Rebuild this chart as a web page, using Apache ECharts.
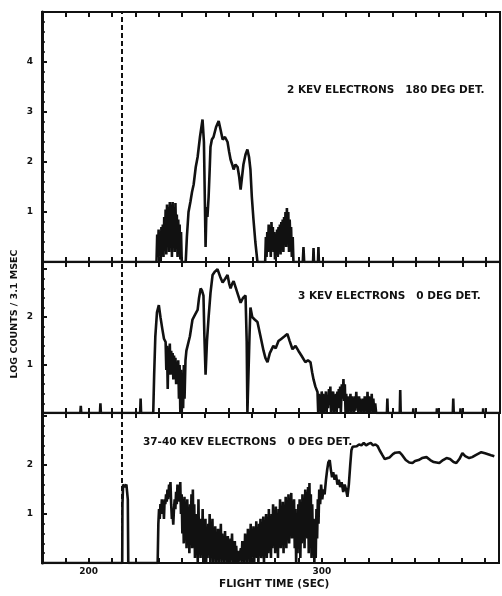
<!DOCTYPE html>
<html>
<head>
<meta charset="utf-8">
<script src="https://cdn.jsdelivr.net/npm/echarts@6/dist/echarts.min.js"></script>
<style>
  html, body { margin: 0; padding: 0; background: #fff; }
  #chart { width: 502px; height: 596px; }
</style>
</head>
<body>
<div id="chart"></div>
<script>
// flight time axis (sec)
var xMin = 180
var xMax = 376
var xLabels = [200, 300]
var dashedAt = 214.2

// y tick labels per panel
var topYLabels = [1, 2, 3, 4]
var midYLabels = [1, 2]
var botYLabels = [1, 2]

var titles = ['2 KEV ELECTRONS   180 DEG DET.', '3 KEV ELECTRONS   0 DEG DET.', '37-40 KEV ELECTRONS   0 DEG DET.']

// 2 keV, 180 deg detector  [time, log counts]
var topSeries = [
  [180, 0], [229, 0], [229.3, 0.55], [229.6, 0.1], [229.9, 0.65], [230.2, 0.2], [230.5, 0.6], [230.8, 0], [231.1, 0.7], [231.4, 0.25],
  [231.7, 0.75], [232, 0.1], [232.3, 0.9], [232.6, 0.3], [232.9, 1.05], [233.2, 0.15], [233.5, 1.15], [233.8, 0.4], [234.1, 1.1], [234.4, 0.2],
  [234.7, 1.2], [235, 0.5], [235.3, 1.15], [235.6, 0.1], [235.9, 1.2], [236.2, 0.35], [236.5, 1.1], [236.8, 0.2], [237.1, 1.18], [237.4, 0.5],
  [237.7, 0.95], [238, 0.1], [238.3, 0.85], [238.6, 0.3], [238.9, 0.75], [239.2, 0.05], [239.5, 0.6], [239.8, 0], [241.5, 0],
  [242, 0.5], [242.7, 1.0], [243.5, 1.2], [244.2, 1.4], [244.9, 1.55], [245.8, 1.9], [246.6, 2.1], [247.6, 2.5], [248.7, 2.85], [249.3, 2.4],
  [249.7, 1.2], [250, 0.3], [250.4, 1.1], [250.8, 0.9], [251.3, 1.3], [251.8, 1.9], [252.1, 2.3], [252.7, 2.45], [253.4, 2.5], [254.5, 2.7],
  [255.6, 2.82], [256.4, 2.65], [257.3, 2.45], [258.3, 2.5], [259.4, 2.4], [260.1, 2.2], [260.7, 2.05], [261.4, 1.95], [262, 1.85], [262.8, 1.95],
  [263.7, 1.9], [264.4, 1.7], [265, 1.45], [265.6, 1.7], [266.2, 1.95], [267.1, 2.15], [267.9, 2.25], [268.6, 2.1], [269.2, 1.85], [269.8, 1.3],
  [270.5, 0.85], [271.3, 0.4], [272.2, 0], [275.5, 0],
  [275.8, 0.5], [276.1, 0.1], [276.4, 0.6], [276.7, 0.2], [277, 0.75], [277.3, 0.3], [277.6, 0.7], [277.9, 0.1], [278.2, 0.8], [278.5, 0.35],
  [278.8, 0.7], [279.1, 0.2], [279.4, 0.6], [279.7, 0.05], [280, 0.55], [280.3, 0.2], [280.6, 0.65], [280.9, 0.1], [281.2, 0.7], [281.5, 0.3],
  [281.8, 0.75], [282.1, 0.15], [282.4, 0.8], [282.7, 0.4], [283, 0.85], [283.3, 0.2], [283.6, 0.9], [283.9, 0.45], [284.2, 1.0], [284.5, 0.3],
  [284.8, 1.08], [285.1, 0.5], [285.4, 1.0], [285.7, 0.2], [286, 0.85], [286.3, 0.4], [286.6, 0.7], [286.9, 0.1], [287.3, 0.5], [287.6, 0],
  [291.6, 0], [291.9, 0.3], [292.2, 0], [296, 0], [296.2, 0.28], [296.4, 0], [298.1, 0], [298.3, 0.3], [298.5, 0], [376, 0]
]

// 3 keV, 0 deg detector
var midSeries = [
  [180, 0], [196.4, 0], [196.6, 0.15], [196.8, 0], [204.8, 0], [205, 0.2], [205.2, 0], [222, 0], [222.2, 0.3], [222.4, 0], [227.6, 0],
  [228, 0.8], [228.5, 1.6], [229.2, 2.1], [230, 2.25], [230.7, 2.0], [231.5, 1.75], [232.2, 1.55], [232.9, 1.48], [233.2, 0.9], [233.5, 1.4],
  [233.8, 0.5], [234.1, 1.35], [234.4, 1.0], [234.7, 1.45], [235, 0.8], [235.3, 1.3], [235.6, 0.95], [235.9, 1.25], [236.2, 0.7], [236.5, 1.2],
  [236.8, 0.9], [237.1, 1.15], [237.4, 0.6], [237.7, 1.05], [238, 0.8], [238.3, 1.1], [238.6, 0.3], [238.9, 1.0], [239.2, 0], [239.5, 0.9],
  [239.8, 0], [240.1, 0.8], [240.4, 0.1], [240.7, 1.0], [241, 0.3], [241.4, 1.1], [241.8, 1.3], [242.3, 1.4], [243.3, 1.6], [244.4, 1.95],
  [245.5, 2.05], [246.6, 2.15], [247.2, 2.4], [247.9, 2.6], [248.5, 2.55], [249.1, 2.45], [249.5, 1.6], [250, 0.8], [250.6, 1.5], [251.3, 2.0],
  [252.1, 2.5], [253, 2.88], [254, 2.95], [255.1, 3.0], [256.2, 2.85], [257.3, 2.72], [258.4, 2.8], [259.4, 2.88], [260.1, 2.7], [260.7, 2.6],
  [261.4, 2.7], [262, 2.75], [263, 2.6], [264, 2.45], [265, 2.3], [266, 2.4], [267.1, 2.45], [267.6, 1.5], [267.9, 0], [268.4, 0],
  [268.8, 1.6], [269.2, 2.2], [270, 2.0], [271, 1.95], [272.2, 1.9], [273.5, 1.6], [274.8, 1.3], [275.6, 1.15], [276.5, 1.06], [277.5, 1.25],
  [279, 1.4], [280, 1.35], [281.2, 1.5], [282.5, 1.55], [283.8, 1.6], [285, 1.65], [286, 1.5], [287.2, 1.33], [288.5, 1.4], [289.7, 1.3],
  [291, 1.2], [292.7, 1.06], [293.8, 1.1], [294.9, 1.06], [295.6, 0.85], [296.2, 0.7], [297, 0.55], [297.9, 0.44],
  [298.2, 0], [298.5, 0.4], [298.8, 0.05], [299.1, 0.35], [299.4, 0], [299.7, 0.45], [300, 0.1], [300.3, 0.4], [300.6, 0], [300.9, 0.3],
  [301.2, 0.1], [301.5, 0.45], [301.8, 0], [302.1, 0.35], [302.4, 0.1], [302.8, 0.5], [303.1, 0.2], [303.4, 0.55], [303.7, 0], [304, 0.4],
  [304.3, 0.1], [304.6, 0.45], [304.9, 0], [305.2, 0.35], [305.5, 0.15], [305.8, 0.4], [306.1, 0], [306.4, 0.45], [306.7, 0.1], [307, 0.5],
  [307.3, 0.2], [307.6, 0.55], [307.9, 0], [308.3, 0.6], [308.7, 0.3], [309, 0.71], [309.3, 0.25], [309.6, 0.6], [309.9, 0], [310.2, 0.4],
  [310.5, 0.1], [310.8, 0.35], [311.1, 0], [311.4, 0.3], [311.7, 0.1], [312, 0.4], [312.3, 0], [312.6, 0.35], [312.9, 0.1], [313.2, 0.3],
  [313.5, 0], [313.8, 0.35], [314.1, 0.05], [314.5, 0.44], [314.8, 0.1], [315.1, 0.3], [315.4, 0], [315.7, 0.35], [316, 0.1], [316.3, 0.3],
  [316.6, 0], [316.9, 0.25], [317.2, 0.05], [317.5, 0.3], [317.8, 0], [318.1, 0.35], [318.4, 0.1], [318.7, 0.3], [319, 0], [319.3, 0.44],
  [319.6, 0.1], [319.9, 0.35], [320.2, 0], [320.5, 0.3], [320.8, 0.05], [321.1, 0.4], [321.4, 0], [321.8, 0.3], [322.2, 0], [322.6, 0.2], [323, 0],
  [327.6, 0], [327.8, 0.3], [328, 0], [333.1, 0], [333.3, 0.48], [333.5, 0], [338.8, 0], [338.9, 0.1], [339, 0], [348.9, 0], [349, 0.1],
  [349.1, 0], [355.8, 0], [356, 0.3], [356.2, 0], [359, 0], [359.1, 0.1], [359.2, 0], [368.7, 0], [368.8, 0.1], [368.9, 0], [376, 0]
]

// 37-40 keV, 0 deg detector
var botSeries = [
  [180, 0], [214.4, 0], [214.5, 1.2], [214.8, 1.6], [215.5, 1.55], [216.2, 1.6], [216.8, 1.3], [217, 0], [229.6, 0],
  [229.9, 0.8], [230.2, 1.1], [230.5, 0.9], [230.8, 1.2], [231.1, 1.0], [231.4, 1.3], [231.7, 1.1], [232, 1.25], [232.3, 0.9], [232.6, 1.3],
  [232.9, 1.2], [233.2, 1.4], [233.5, 1.25], [233.8, 1.5], [234.1, 1.3], [234.5, 1.6], [234.8, 1.4], [235.1, 1.65], [235.4, 1.2], [235.7, 0.9],
  [236, 1.0], [236.3, 0.78], [236.6, 1.1], [236.9, 1.3], [237.2, 1.1], [237.5, 1.45], [237.8, 1.2], [238.1, 1.6], [238.4, 1.3], [238.7, 1.55],
  [239, 1.25], [239.3, 1.65], [239.6, 1.0], [239.9, 1.4], [240.2, 0.6], [240.5, 1.3], [240.8, 0.4], [241.1, 1.35], [241.4, 0.8], [241.7, 1.25],
  [242, 0.3], [242.3, 1.3], [242.6, 0.5], [242.9, 1.1], [243.2, 0.2], [243.5, 1.2], [243.8, 0.6], [244.1, 1.4], [244.4, 0.3], [244.7, 1.5],
  [245, 0.4], [245.3, 1.2], [245.6, 0.1], [245.9, 1.0], [246.2, 0.3], [246.5, 0.9], [246.8, 0], [247.1, 1.3], [247.4, 0.2], [247.7, 0.8],
  [248, 0.1], [248.3, 0.9], [248.6, 0.3], [248.9, 1.1], [249.2, 0], [249.5, 0.7], [249.8, 0.2], [250.1, 0.9], [250.4, 0], [250.7, 0.6],
  [251, 0.1], [251.3, 0.8], [251.6, 0.2], [251.9, 1.0], [252.2, 0], [252.5, 0.7], [252.8, 0.3], [253.1, 0.9], [253.4, 0], [253.7, 0.6],
  [254, 0.15], [254.3, 0.75], [254.6, 0], [254.9, 0.5], [255.2, 0.1], [255.5, 0.7], [255.8, 0], [256.1, 0.55], [256.4, 0.2], [256.7, 0.8],
  [257, 0], [257.3, 0.6], [257.6, 0.1], [257.9, 0.5], [258.2, 0], [258.5, 0.65], [258.8, 0.1], [259.1, 0.45], [259.4, 0], [259.7, 0.55],
  [260, 0.05], [260.3, 0.4], [260.6, 0], [260.9, 0.5], [261.2, 0.1], [261.5, 0.6], [261.8, 0], [262.1, 0.3], [262.4, 0], [262.7, 0.45],
  [263, 0], [263.3, 0.35], [263.6, 0], [263.9, 0.25], [264.2, 0], [265, 0], [265.3, 0.3], [265.6, 0], [265.9, 0.45], [266.2, 0.05],
  [266.5, 0.4], [266.8, 0], [267.1, 0.6], [267.4, 0.1], [267.7, 0.5], [268, 0], [268.3, 0.7], [268.6, 0.2], [268.9, 0.55], [269.2, 0],
  [269.5, 0.8], [269.8, 0.1], [270.1, 0.6], [270.4, 0.2], [270.7, 0.75], [271, 0], [271.3, 0.65], [271.6, 0.15], [271.9, 0.85], [272.2, 0.1],
  [272.5, 0.7], [272.8, 0], [273.1, 0.8], [273.4, 0.3], [273.7, 0.9], [274, 0.1], [274.3, 0.75], [274.6, 0.2], [274.9, 0.95], [275.2, 0],
  [275.5, 0.8], [275.8, 0.3], [276.1, 1.0], [276.4, 0.1], [276.7, 0.85], [277, 0.2], [277.3, 1.1], [277.6, 0.4], [277.9, 0.9], [278.2, 0.1],
  [278.5, 1.0], [278.8, 0.3], [279.1, 1.2], [279.4, 0.5], [279.7, 1.0], [280, 0.2], [280.3, 1.15], [280.6, 0.4], [280.9, 0.9], [281.2, 0.1],
  [281.5, 1.1], [281.8, 0.5], [282.1, 1.3], [282.4, 0.3], [282.7, 1.0], [283, 0.6], [283.3, 1.25], [283.6, 0.2], [283.9, 1.1], [284.2, 0.5],
  [284.5, 1.35], [284.8, 0.3], [285.1, 1.2], [285.4, 0.7], [285.7, 1.4], [286, 0.4], [286.3, 1.15], [286.6, 0.8], [286.9, 1.43], [287.2, 0.5],
  [287.5, 1.2], [287.8, 0.9], [288.1, 1.3], [288.4, 0.3], [288.7, 1.1], [289, 0], [289.3, 0.9], [289.6, 0.2], [289.9, 1.2], [290.2, 0.6],
  [290.5, 1.3], [290.8, 0.1], [291.1, 1.0], [291.4, 0.4], [291.7, 1.4], [292, 0.7], [292.3, 1.2], [292.6, 0.3], [292.9, 1.5], [293.2, 0.9],
  [293.5, 1.45], [293.8, 0.5], [294.1, 1.55], [294.4, 0.2], [294.7, 1.63], [295, 0.6], [295.3, 1.4], [295.6, 0.1], [295.9, 1.2], [296.2, 0.3],
  [296.5, 0.9], [296.8, 0], [297.1, 0.8], [297.4, 0.1], [297.7, 1.1], [298, 0.5], [298.3, 1.3], [298.6, 0.8], [298.9, 1.5], [299.3, 1.2],
  [299.7, 1.6], [300.2, 1.3], [300.7, 1.5], [301.2, 1.4], [301.8, 1.7], [302.3, 1.9], [302.8, 2.05], [303.4, 2.1], [303.9, 1.9], [304.4, 1.75],
  [304.9, 1.85], [305.5, 1.7], [306.1, 1.8], [306.7, 1.6], [307.3, 1.7], [307.9, 1.55], [308.5, 1.65], [309.2, 1.45], [309.8, 1.6], [310.4, 1.5],
  [311, 1.35], [311.6, 1.6], [312.2, 2.0], [312.7, 2.3], [313.2, 2.37], [314, 2.4], [315, 2.38], [316, 2.42], [317, 2.4], [318, 2.45],
  [319, 2.4], [320, 2.43], [321, 2.45], [322, 2.4], [323, 2.42], [324, 2.38], [324.8, 2.3], [326, 2.2], [327, 2.12], [327.8, 2.1],
  [329, 2.15], [330.5, 2.22], [331.5, 2.25], [333.3, 2.26], [334.5, 2.2], [336, 2.1], [337.5, 2.05], [338.9, 2.04], [340, 2.08], [341.5, 2.1],
  [343, 2.14], [344.9, 2.16], [346.5, 2.1], [348, 2.06], [350.4, 2.04], [352, 2.1], [353.5, 2.14], [355, 2.12], [356.5, 2.06], [357.7, 2.04],
  [359, 2.12], [360.3, 2.24], [361.5, 2.18], [363.2, 2.14], [364.5, 2.16], [366, 2.2], [368.4, 2.26], [370, 2.24], [372.6, 2.2], [374, 2.18]
]

var ink = '#111'
var font = 'DejaVu Sans'
var textFont = 'bold 10.5px "DejaVu Sans"'

function xAxisFor (grid, pos, withLabels) {
  return {
    type: 'value', gridIndex: grid, position: pos, min: xMin, max: xMax, interval: 10,
    axisLine: { lineStyle: { color: ink, width: 2 } },
    axisTick: { inside: true, length: 5, lineStyle: { color: ink, width: 2 } },
    axisLabel: {
      show: withLabels, margin: 4, color: ink, fontFamily: font, fontWeight: 'bold', fontSize: 9,
      formatter: function (v) { return xLabels.indexOf(v) >= 0 ? String(v) : '' }
    },
    splitLine: { show: false }
  }
}

function yAxisFor (grid, max, labels) {
  return {
    type: 'value', gridIndex: grid, min: 0, max: max, interval: 1,
    axisLine: { lineStyle: { color: ink, width: 3 } },
    axisTick: { inside: true, length: 5, lineStyle: { color: ink, width: 2 } },
    minorTick: { show: true, splitNumber: 5, length: 3, lineStyle: { color: ink, width: 1.5 } },
    axisLabel: {
      margin: 9, color: ink, fontFamily: font, fontWeight: 'bold', fontSize: 9,
      formatter: function (v) { return labels.indexOf(v) >= 0 ? String(v) : '' }
    },
    splitLine: { show: false }
  }
}

function seriesFor (i, data) {
  return {
    type: 'line', xAxisIndex: i * 2, yAxisIndex: i, data: data,
    showSymbol: false, lineStyle: { color: ink, width: 2.6 },
    markLine: {
      silent: true, symbol: 'none', label: { show: false },
      lineStyle: { color: ink, width: 2, type: [5, 3] },
      data: [{ xAxis: dashedAt }]
    }
  }
}

var chart = echarts.init(document.getElementById('chart'))
chart.setOption({
  animation: false,
  backgroundColor: '#fff',
  grid: [
    { left: 42, right: 2, top: 12, height: 250, show: true, borderColor: ink, borderWidth: 2 },
    { left: 42, right: 2, top: 262, height: 151, show: true, borderColor: ink, borderWidth: 2 },
    { left: 42, right: 2, top: 413, height: 150, show: true, borderColor: ink, borderWidth: 2 }
  ],
  xAxis: [
    xAxisFor(0, 'bottom', false), xAxisFor(0, 'top', false),
    xAxisFor(1, 'bottom', false), xAxisFor(1, 'top', false),
    xAxisFor(2, 'bottom', true), xAxisFor(2, 'top', false)
  ],
  yAxis: [
    yAxisFor(0, 5, topYLabels),
    yAxisFor(1, 3.15, midYLabels),
    yAxisFor(2, 3.06, botYLabels)
  ],
  series: [
    seriesFor(0, topSeries),
    seriesFor(1, midSeries),
    seriesFor(2, botSeries)
  ],
  graphic: [
    { type: 'text', left: 287, top: 85, style: { text: titles[0], fill: ink, font: textFont } },
    { type: 'text', left: 298, top: 291, style: { text: titles[1], fill: ink, font: textFont } },
    { type: 'text', left: 143, top: 437, style: { text: titles[2], fill: ink, font: textFont } },
    { type: 'text', left: 219, top: 579, style: { text: 'FLIGHT TIME (SEC)', fill: ink, font: textFont } },
    { type: 'text', x: 15, y: 314, rotation: Math.PI / 2,
      style: { text: 'LOG COUNTS / 3.1 MSEC', fill: ink, font: 'bold 9.5px "DejaVu Sans"', align: 'center', verticalAlign: 'middle' } }
  ]
})
</script>
</body>
</html>
